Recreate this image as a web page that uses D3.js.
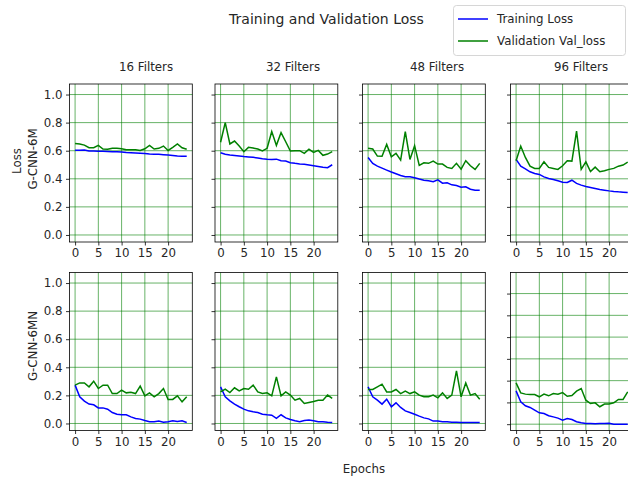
<!DOCTYPE html>
<html lang="en">
    <head>
        <meta charset="utf-8">
        <title>Training and Validation Loss</title>
        <script type="text/javascript" src="https://cdn.jsdelivr.net/npm/d3@7"></script>
        <style>
            body { margin: 0; background: #fff; }
            text { font-family: "DejaVu Sans", sans-serif; fill: #262626; }
        </style>
    </head>
    <body>
        <script type="text/javascript">

            //Data
            var epochs = d3.range(0, 25);
            var filterLabels = ["16 Filters", "32 Filters", "48 Filters", "96 Filters"];
            var modelLabels = ["G-CNN-6M", "G-CNN-6MN"];
            var yTicks = [0, 0.2, 0.4, 0.6, 0.8, 1.0];
            var xTicks = [0, 5, 10, 15, 20];

            var train6M_16 = [0.603, 0.603, 0.605, 0.598, 0.598, 0.597, 0.596, 0.595, 0.593, 0.592, 0.59, 0.587, 0.586, 0.584, 0.582, 0.58, 0.577, 0.575, 0.574, 0.572, 0.569, 0.566, 0.563, 0.561, 0.56];
            var val6M_16 = [0.652, 0.648, 0.64, 0.621, 0.621, 0.638, 0.612, 0.61, 0.617, 0.617, 0.614, 0.607, 0.607, 0.607, 0.602, 0.614, 0.638, 0.612, 0.617, 0.633, 0.602, 0.624, 0.648, 0.621, 0.61];
            var train6M_32 = [0.586, 0.575, 0.57, 0.566, 0.562, 0.558, 0.556, 0.553, 0.548, 0.543, 0.54, 0.538, 0.54, 0.528, 0.526, 0.515, 0.51, 0.506, 0.503, 0.498, 0.493, 0.488, 0.482, 0.479, 0.50];
            var val6M_32 = [0.66, 0.80, 0.648, 0.669, 0.633, 0.593, 0.624, 0.619, 0.612, 0.598, 0.617, 0.736, 0.638, 0.729, 0.664, 0.598, 0.60, 0.60, 0.581, 0.61, 0.588, 0.602, 0.567, 0.576, 0.593];
            var train6M_48 = [0.552, 0.51, 0.49, 0.476, 0.462, 0.448, 0.436, 0.424, 0.414, 0.414, 0.407, 0.398, 0.39, 0.386, 0.379, 0.393, 0.369, 0.371, 0.357, 0.352, 0.34, 0.343, 0.326, 0.319, 0.319];
            var val6M_48 = [0.617, 0.612, 0.562, 0.56, 0.645, 0.557, 0.581, 0.533, 0.736, 0.538, 0.636, 0.495, 0.514, 0.51, 0.526, 0.505, 0.505, 0.481, 0.474, 0.51, 0.469, 0.529, 0.493, 0.467, 0.51];
            var train6M_96 = [0.538, 0.49, 0.471, 0.45, 0.438, 0.431, 0.414, 0.402, 0.395, 0.386, 0.376, 0.374, 0.39, 0.367, 0.355, 0.345, 0.338, 0.331, 0.324, 0.319, 0.314, 0.31, 0.307, 0.305, 0.302];
            var val6M_96 = [0.529, 0.633, 0.552, 0.49, 0.474, 0.474, 0.521, 0.481, 0.474, 0.467, 0.493, 0.529, 0.526, 0.74, 0.467, 0.521, 0.452, 0.483, 0.45, 0.457, 0.467, 0.474, 0.49, 0.498, 0.519];

            var train6MN_16 = [0.273, 0.19, 0.159, 0.138, 0.133, 0.111, 0.111, 0.102, 0.078, 0.066, 0.062, 0.062, 0.047, 0.036, 0.031, 0.021, 0.012, 0.012, 0.017, 0.009, 0.012, 0.019, 0.014, 0.019, 0.007];
            var val6MN_16 = [0.273, 0.289, 0.289, 0.261, 0.301, 0.249, 0.273, 0.273, 0.213, 0.213, 0.237, 0.218, 0.223, 0.213, 0.266, 0.197, 0.218, 0.19, 0.213, 0.249, 0.171, 0.171, 0.197, 0.154, 0.19];
            var train6MN_32 = [0.261, 0.19, 0.161, 0.138, 0.119, 0.102, 0.09, 0.083, 0.078, 0.066, 0.062, 0.059, 0.036, 0.062, 0.04, 0.028, 0.019, 0.012, 0.021, 0.024, 0.019, 0.012, 0.012, 0.009, 0.007];
            var val6MN_32 = [0.225, 0.244, 0.22, 0.254, 0.232, 0.249, 0.244, 0.273, 0.225, 0.213, 0.218, 0.197, 0.332, 0.197, 0.225, 0.202, 0.166, 0.178, 0.142, 0.149, 0.156, 0.166, 0.166, 0.202, 0.178];
            var train6MN_48 = [0.261, 0.19, 0.166, 0.138, 0.173, 0.119, 0.147, 0.114, 0.09, 0.078, 0.066, 0.052, 0.04, 0.033, 0.017, 0.017, 0.012, 0.012, 0.009, 0.009, 0.007, 0.007, 0.007, 0.007, 0.007];
            var val6MN_48 = [0.242, 0.242, 0.261, 0.28, 0.225, 0.225, 0.242, 0.213, 0.23, 0.213, 0.225, 0.202, 0.19, 0.19, 0.202, 0.183, 0.218, 0.178, 0.202, 0.375, 0.19, 0.289, 0.202, 0.213, 0.173];
            var train6MN_96 = [0.232, 0.154, 0.126, 0.114, 0.095, 0.076, 0.071, 0.055, 0.047, 0.038, 0.024, 0.036, 0.028, 0.012, 0.005, 0.0, 0.0, -0.002, 0.0, 0.0, 0.002, -0.005, -0.005, -0.005, -0.005];
            var val6MN_96 = [0.289, 0.218, 0.209, 0.206, 0.206, 0.19, 0.209, 0.197, 0.213, 0.209, 0.22, 0.194, 0.199, 0.23, 0.249, 0.166, 0.142, 0.147, 0.119, 0.138, 0.138, 0.147, 0.171, 0.171, 0.225];

            //the last panel has its own y grid
            var yTicksOdd = [-0.005, 0.15, 0.305, 0.46, 0.615, 0.77, 0.925];

            var trainRows = [[train6M_16, train6M_32, train6M_48, train6M_96],
                             [train6MN_16, train6MN_32, train6MN_48, train6MN_96]];
            var valRows = [[val6M_16, val6M_32, val6M_48, val6M_96],
                           [val6MN_16, val6MN_32, val6MN_48, val6MN_96]];

            //Sizes
            var w = 628;
            var h = 477;
            var colLeft = [69.5, 215, 362.5, 510.5];
            var rowTop = [84, 272.5];
            var pw = 122.8;
            var ph = 158;
            var fs = "11.8px";

            var svg = d3.select("body")
                    .append("svg")
                    .attr("width", w)
                    .attr("height", h);

            var xScale = d3.scaleLinear()
                    .domain([-1.2, 25.2])
                    .range([0, pw]);

            var yScale = d3.scaleLinear()
                    .domain([-0.05, 1.075])
                    .range([ph, 0]);

            var line = d3.line()
                    .x(function (d, i) { return xScale(epochs[i]); })
                    .y(function (d) { return yScale(d); });

            //Create panels
            for (var r = 0; r < 2; r++) {
                for (var c = 0; c < 4; c++) {
                    var g = svg.append("g")
                            .attr("transform", "translate(" + colLeft[c] + "," + rowTop[r] + ")");

                    var gridY = (r == 1 && c == 3) ? yTicksOdd : yTicks;

                    //grid
                    g.selectAll(".vgrid")
                            .data(xTicks)
                            .enter()
                            .append("line")
                            .attr("x1", function (d) { return xScale(d); })
                            .attr("x2", function (d) { return xScale(d); })
                            .attr("y1", 0)
                            .attr("y2", ph)
                            .attr("stroke", "green")
                            .attr("stroke-opacity", 0.75)
                            .attr("stroke-width", 0.8);

                    g.selectAll(".hgrid")
                            .data(gridY)
                            .enter()
                            .append("line")
                            .attr("x1", 0)
                            .attr("x2", pw)
                            .attr("y1", function (d) { return yScale(d); })
                            .attr("y2", function (d) { return yScale(d); })
                            .attr("stroke", "green")
                            .attr("stroke-opacity", 0.75)
                            .attr("stroke-width", 0.8);

                    //lines
                    g.append("path")
                            .attr("d", line(trainRows[r][c]))
                            .attr("fill", "none")
                            .attr("stroke", "#0000ff")
                            .attr("stroke-width", 1.5);

                    g.append("path")
                            .attr("d", line(valRows[r][c]))
                            .attr("fill", "none")
                            .attr("stroke", "#008000")
                            .attr("stroke-width", 1.5);

                    //axes
                    var xAxis = g.append("g")
                            .attr("transform", "translate(0," + ph + ")")
                            .call(d3.axisBottom(xScale).tickValues(xTicks).tickSize(3.5).tickPadding(3.5));

                    var yAxis = g.append("g")
                            .call(d3.axisLeft(yScale).tickValues(gridY).tickSize(3.5).tickPadding(3.5)
                                    .tickFormat(function (d) { return c == 0 ? d3.format(".1f")(d) : ""; }));

                    [xAxis, yAxis].forEach(function (a) {
                        a.select(".domain").remove();
                        a.selectAll("line").attr("stroke", "#000").attr("stroke-width", 0.8);
                        a.selectAll("text").style("font-size", fs).attr("fill", "#262626");
                    });

                    //frame
                    g.append("rect")
                            .attr("x", 0)
                            .attr("y", 0)
                            .attr("width", pw)
                            .attr("height", ph)
                            .attr("fill", "none")
                            .attr("stroke", "#000")
                            .attr("stroke-width", 0.8);
                }
            }

            //Column titles
            var titleX = [146, 293, 437, 581];
            svg.selectAll(".coltitle")
                    .data(filterLabels)
                    .enter()
                    .append("text")
                    .attr("x", function (d, i) { return titleX[i]; })
                    .attr("y", 71)
                    .attr("text-anchor", "middle")
                    .style("font-size", fs)
                    .text(function (d) { return d; });

            //Row labels
            var rowLabelY = [159, 346];
            svg.selectAll(".rowlabel")
                    .data(modelLabels)
                    .enter()
                    .append("text")
                    .attr("transform", function (d, i) { return "translate(33," + rowLabelY[i] + ") rotate(-90)"; })
                    .attr("text-anchor", "middle")
                    .attr("dominant-baseline", "central")
                    .style("font-size", fs)
                    .text(function (d) { return d; });

            svg.append("text")
                    .attr("transform", "translate(17,161) rotate(-90)")
                    .attr("text-anchor", "middle")
                    .attr("dominant-baseline", "central")
                    .style("font-size", fs)
                    .text("Loss");

            svg.append("text")
                    .attr("x", 364)
                    .attr("y", 473)
                    .attr("text-anchor", "middle")
                    .style("font-size", fs)
                    .text("Epochs");

            //Title
            svg.append("text")
                    .attr("x", 326.5)
                    .attr("y", 24)
                    .attr("text-anchor", "middle")
                    .style("font-size", "14px")
                    .text("Training and Validation Loss");

            //Legend
            var legend = svg.append("g");
            legend.append("rect")
                    .attr("x", 453.5)
                    .attr("y", 5.5)
                    .attr("width", 172)
                    .attr("height", 50)
                    .attr("rx", 3)
                    .attr("fill", "#fff")
                    .attr("fill-opacity", 0.8)
                    .attr("stroke", "#cccccc")
                    .attr("stroke-width", 0.8);

            var legendItems = [["Training Loss", "#0000ff"], ["Validation Val_loss", "#008000"]];
            legendItems.forEach(function (d, i) {
                var ly = 19 + i * 22;
                legend.append("line")
                        .attr("x1", 458)
                        .attr("x2", 488)
                        .attr("y1", ly)
                        .attr("y2", ly)
                        .attr("stroke", d[1])
                        .attr("stroke-width", 1.5);
                legend.append("text")
                        .attr("x", 497)
                        .attr("y", ly)
                        .attr("dominant-baseline", "central")
                        .style("font-size", fs)
                        .text(d[0]);
            });

        </script>
    </body>
</html>
